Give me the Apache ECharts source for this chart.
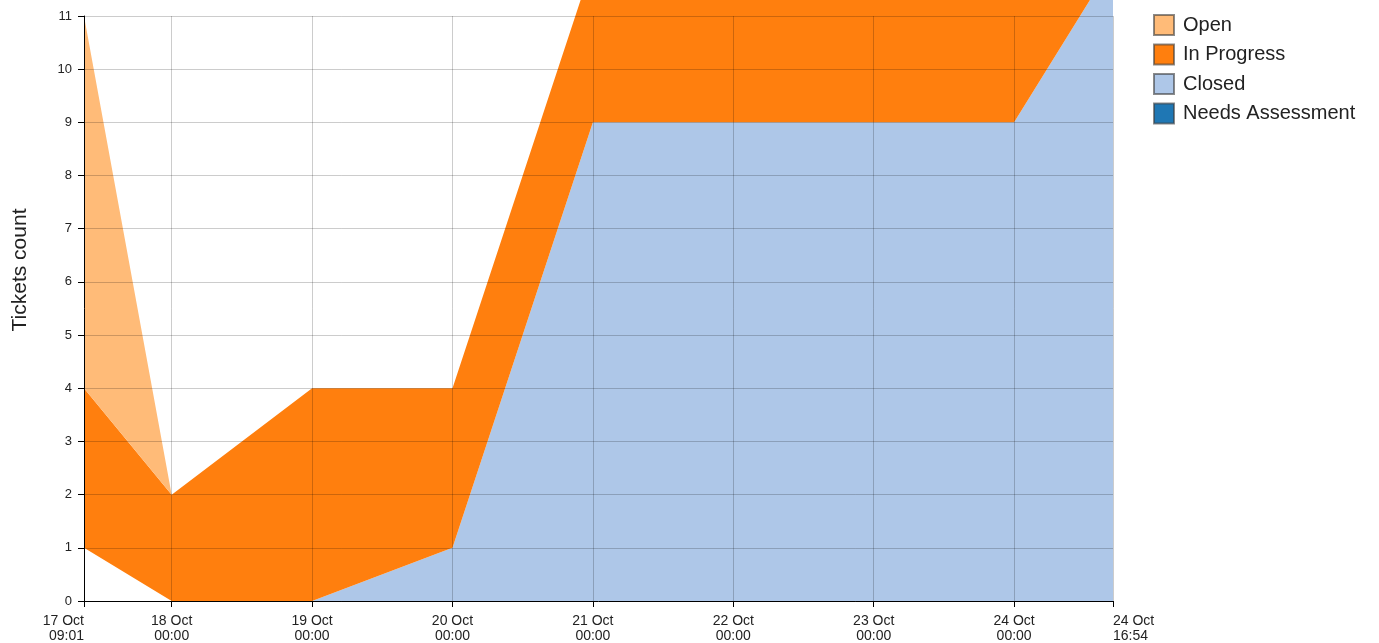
<!DOCTYPE html>
<html>
<head>
<meta charset="utf-8">
<script src="https://cdn.jsdelivr.net/npm/echarts@6/dist/echarts.min.js"></script>
<style>
  html, body { margin: 0; padding: 0; background: #fff; }
  #chart { width: 1379px; height: 643px; }
</style>
</head>
<body>
<div id="chart"></div>
<script>
// snapshot times (local time)
const times = ['2023-10-17 09:01', '2023-10-18 00:00', '2023-10-19 00:00', '2023-10-20 00:00',
  '2023-10-21 00:00', '2023-10-22 00:00', '2023-10-23 00:00', '2023-10-24 00:00', '2023-10-24 16:54']

// ticket counts per status (stacked bottom -> top: needs assessment, closed, in progress, open)
const needsAssessment = [1, 0, 0, 0, 0, 0, 0, 0, 0]
const closed = [0, 0, 0, 1, 9, 9, 9, 9, 12]
const inProgress = [3, 2, 4, 3, 3, 3, 3, 3, 0]
const open = [7, 0, 0, 0, 0, 0, 0, 0, 0]

const MONTHS = ['Jan', 'Feb', 'Mar', 'Apr', 'May', 'Jun', 'Jul', 'Aug', 'Sep', 'Oct', 'Nov', 'Dec']
const DAY = 24 * 3600 * 1000

function toTs(s) {
  const [d, t] = s.split(' ')
  const [y, m, day] = d.split('-').map(Number)
  const [h, mi] = t.split(':').map(Number)
  return new Date(y, m - 1, day, h, mi).getTime()
}
const pad = n => String(n).padStart(2, '0')

const xs = times.map(toTs)
const toSeries = vals => vals.map((v, i) => [xs[i], v])

// narrow font for the x labels if it is installed
function hasFont(name) {
  const ctx = document.createElement('canvas').getContext('2d')
  ctx.font = '20px monospace'
  const a = ctx.measureText('17 Oct 09:01 mmmwww').width
  ctx.font = `20px '${name}', monospace`
  return ctx.measureText('17 Oct 09:01 mmmwww').width !== a
}
const font = "'Liberation Sans', Arial, sans-serif"
const narrow = hasFont('Liberation Sans Narrow')
const xFont = narrow ? "'Liberation Sans Narrow', sans-serif" : font
const xSize = narrow ? 17 : 14

const chart = echarts.init(document.getElementById('chart'), null, { renderer: 'canvas' })

function areaSeries(name, values, color, visible) {
  return {
    name,
    type: 'line',
    stack: 'total',
    data: toSeries(values),
    symbol: 'none',
    clip: false,
    lineStyle: { width: 0 },
    itemStyle: { color },
    areaStyle: { color, opacity: visible ? 1 : 0 },
    emphasis: { disabled: true },
  }
}

chart.setOption({
  animation: false,
  textStyle: { fontFamily: font },
  grid: { left: 84, top: 16, width: 1029, height: 585, containLabel: false },
  legend: {
    orient: 'vertical',
    left: 1148,
    top: 9,
    icon: 'rect',
    itemWidth: 20,
    itemHeight: 20,
    itemGap: 7.5,
    itemStyle: { borderColor: 'rgba(60,60,60,0.6)', borderWidth: 2 },
    textStyle: { fontSize: 20, color: '#222', fontFamily: font, padding: [0, 0, 0, 4] },
    selectedMode: false,
    data: ['Open', 'In Progress', 'Closed', 'Needs Assessment'],
  },
  graphic: [{
    type: 'text',
    x: 20,
    y: 270,
    rotation: Math.PI / 2,
    style: {
      text: 'Tickets count',
      font: '21px ' + font,
      fill: '#222',
      align: 'center',
      verticalAlign: 'middle',
    },
  }],
  xAxis: {
    type: 'time',
    min: xs[0],
    max: xs[xs.length - 1],
    minInterval: DAY,
    maxInterval: DAY,
    z: 10,
    axisLine: { lineStyle: { color: '#000', width: 1 } },
    axisTick: { show: true, length: 6, lineStyle: { color: '#000' } },
    axisLabel: {
      showMinLabel: true,
      showMaxLabel: true,
      alignMinLabel: 'right',
      alignMaxLabel: 'left',
      hideOverlap: false,
      margin: 13,
      fontSize: xSize,
      fontFamily: xFont,
      lineHeight: 14.5,
      color: '#222',
      formatter: v => {
        const d = new Date(v)
        return d.getDate() + ' ' + MONTHS[d.getMonth()] + '\n' + pad(d.getHours()) + ':' + pad(d.getMinutes())
      },
    },
    splitLine: { show: true, lineStyle: { color: 'rgba(0,0,0,0.2)', width: 1 } },
  },
  yAxis: {
    type: 'value',
    min: 0,
    max: 11,
    interval: 1,
    z: 10,
    axisLine: { show: true, lineStyle: { color: '#000', width: 1 } },
    axisTick: { show: true, length: 6, lineStyle: { color: '#000' } },
    axisLabel: { fontSize: 13, color: '#222', margin: 12 },
    splitLine: { show: true, lineStyle: { color: 'rgba(0,0,0,0.2)', width: 1 } },
  },
  series: [
    areaSeries('Needs Assessment', needsAssessment, '#1f77b4', false),
    areaSeries('Closed', closed, '#aec7e8', true),
    areaSeries('In Progress', inProgress, '#ff7f0e', true),
    areaSeries('Open', open, '#ffbb78', true),
  ],
})

window.addEventListener('resize', () => chart.resize())
</script>
</body>
</html>
